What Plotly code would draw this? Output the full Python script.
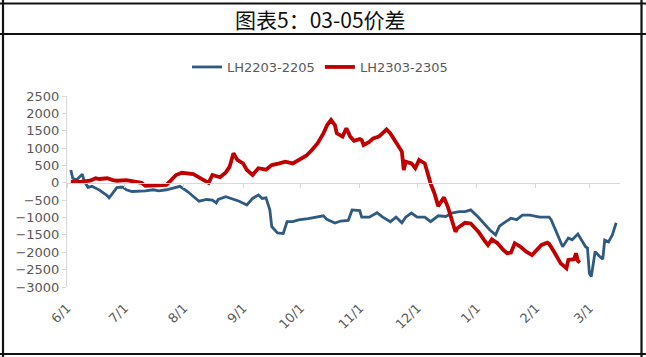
import plotly.graph_objects as go

# ---------------- data ----------------
blue_name = "LH2203-2205"
blue_dates = [
    "2021-06-03", "2021-06-04", "2021-06-06", "2021-06-09", "2021-06-10", "2021-06-12", "2021-06-14",
    "2021-06-18", "2021-06-22", "2021-06-23", "2021-06-25", "2021-06-27", "2021-06-30", "2021-07-02",
    "2021-07-05", "2021-07-09", "2021-07-12", "2021-07-16", "2021-07-19", "2021-07-23", "2021-07-26",
    "2021-07-30", "2021-08-03", "2021-08-06", "2021-08-09", "2021-08-13", "2021-08-16", "2021-08-18",
    "2021-08-19", "2021-08-23", "2021-08-26", "2021-08-30", "2021-09-03", "2021-09-06", "2021-09-09",
    "2021-09-11", "2021-09-13", "2021-09-15", "2021-09-16", "2021-09-19", "2021-09-22", "2021-09-24",
    "2021-09-27", "2021-09-30", "2021-10-05", "2021-10-10", "2021-10-13", "2021-10-15", "2021-10-19",
    "2021-10-22", "2021-10-26", "2021-10-28", "2021-11-01", "2021-11-02", "2021-11-06", "2021-11-10",
    "2021-11-13", "2021-11-17", "2021-11-20", "2021-11-23", "2021-11-25", "2021-11-28", "2021-12-01",
    "2021-12-05", "2021-12-08", "2021-12-12", "2021-12-16", "2021-12-19", "2021-12-23", "2021-12-26",
    "2021-12-29", "2022-01-02", "2022-01-05", "2022-01-08", "2022-01-11", "2022-01-13", "2022-01-15",
    "2022-01-19", "2022-01-22", "2022-01-25", "2022-01-29", "2022-02-03", "2022-02-08", "2022-02-09",
    "2022-02-12", "2022-02-15", "2022-02-18", "2022-02-20", "2022-02-23", "2022-02-25", "2022-02-27",
    "2022-02-28", "2022-03-01", "2022-03-02", "2022-03-04", "2022-03-06", "2022-03-08", "2022-03-09",
    "2022-03-11", "2022-03-13", "2022-03-15",
]
blue_values = [
    370, 130, 80, 250, 50, -130, -100,
    -210, -370, -430, -290, -140, -120, -200,
    -250, -250, -230, -200, -230, -200, -150,
    -100, -250, -400, -530, -480, -500, -580,
    -480, -400, -450, -530, -640, -450, -350,
    -450, -430, -780, -1260, -1440, -1460, -1120,
    -1120, -1070, -1030, -980, -950, -1060, -1160,
    -1100, -1080, -780, -800, -990, -990, -860,
    -990, -1120, -990, -1150, -990, -870, -990,
    -990, -1120, -950, -970, -870, -830, -830,
    -780, -990, -1170, -1360, -1500, -1250, -1170,
    -1020, -1060, -930, -930, -990, -990, -1060,
    -1450, -1840, -1590, -1640, -1475, -1640, -1840,
    -1880, -2610, -2700, -1980, -2100, -2200, -1650,
    -1700, -1500, -1150,
]

red_name = "LH2303-2305"
red_dates = [
    "2021-06-03", "2021-06-08", "2021-06-13", "2021-06-16", "2021-06-18", "2021-06-22", "2021-06-25",
    "2021-06-27", "2021-07-02", "2021-07-07", "2021-07-10", "2021-07-12", "2021-07-17", "2021-07-23",
    "2021-07-28", "2021-07-31", "2021-08-06", "2021-08-11", "2021-08-14", "2021-08-16", "2021-08-20",
    "2021-08-23", "2021-08-25", "2021-08-27", "2021-08-29", "2021-09-01", "2021-09-03", "2021-09-06",
    "2021-09-09", "2021-09-13", "2021-09-16", "2021-09-20", "2021-09-23", "2021-09-27", "2021-09-30",
    "2021-10-04", "2021-10-07", "2021-10-10", "2021-10-13", "2021-10-15", "2021-10-17", "2021-10-19",
    "2021-10-20", "2021-10-23", "2021-10-25", "2021-10-27", "2021-10-29", "2021-11-01", "2021-11-02",
    "2021-11-03", "2021-11-06", "2021-11-08", "2021-11-11", "2021-11-15", "2021-11-17", "2021-11-20",
    "2021-11-23", "2021-11-24", "2021-11-25", "2021-11-28", "2021-11-30", "2021-12-02", "2021-12-05",
    "2021-12-06", "2021-12-08", "2021-12-10", "2021-12-12", "2021-12-13", "2021-12-15", "2021-12-17",
    "2021-12-19", "2021-12-21", "2021-12-22", "2021-12-24", "2021-12-26", "2021-12-29", "2022-01-02",
    "2022-01-05", "2022-01-07", "2022-01-09", "2022-01-12", "2022-01-15", "2022-01-17", "2022-01-19",
    "2022-01-21", "2022-01-24", "2022-01-27", "2022-01-30", "2022-02-03", "2022-02-04", "2022-02-07",
    "2022-02-08", "2022-02-11", "2022-02-14", "2022-02-17", "2022-02-18", "2022-02-21", "2022-02-22",
    "2022-02-23", "2022-02-24",
]
red_values = [
    30, 30, 60, 130, 110, 130, 80,
    60, 80, 30, 0, -90, -70, -60,
    225, 290, 250, 100, 0, 225, 160,
    300, 465, 850, 660, 560, 370, 225,
    420, 380, 510, 560, 610, 560, 660,
    780, 945, 1140, 1425, 1665, 1810, 1665,
    1425, 1330, 1570, 1330, 1210, 1260, 1230,
    1090, 1180, 1280, 1330, 1540, 1420, 1180,
    900, 370, 610, 560, 420, 660, 560,
    370, -15, -300, -670, -590, -420, -690,
    -1070, -1410, -1310, -1215, -1150, -1170, -1410,
    -1650, -1790, -1630, -1740, -1935, -2030, -2010,
    -1740, -1840, -1980, -2080, -1840, -1790, -1725,
    -1760, -2030, -2320, -2460, -2220, -2200, -2030,
    -2250, -2300,
]

tick_dates = ["2021-06-01", "2021-07-01", "2021-08-01", "2021-09-01", "2021-10-01",
              "2021-11-01", "2021-12-01", "2022-01-01", "2022-02-01", "2022-03-01"]
tick_labels = ["6/1", "7/1", "8/1", "9/1", "10/1", "11/1", "12/1", "1/1", "2/1", "3/1"]
y_ticks = [2500, 2000, 1500, 1000, 500, 0, -500, -1000, -1500, -2000, -2500, -3000]
title_text = "图表5：03-05价差"

# ---------------- figure ----------------
W, H = 646, 357
ML, MR, MT, MB = 67, 26, 96, 70
PW, PH = W - ML - MR, H - MT - MB


def px_x(p):
    return (p - ML) / PW


def px_y(q):
    return (H - MB - q) / PH


y_min, y_max = -3000, 2500
x_range = ["2021-06-01", "2022-03-17"]
tick_font = dict(family="DejaVu Sans", size=13, color="#595959")

fig = go.Figure()
fig.add_trace(go.Scatter(x=blue_dates, y=blue_values, mode="lines", name=blue_name,
                         line=dict(color="#2F5A82", width=2.8)))
fig.add_trace(go.Scatter(x=red_dates, y=red_values, mode="lines", name=red_name,
                         line=dict(color="#C00000", width=3.8), xaxis="x2"))

frame = dict(color="#111111", width=2.2)
shapes = [
    dict(type="line", xref="paper", yref="paper", x0=px_x(0), x1=px_x(W), y0=px_y(3.5), y1=px_y(3.5), line=frame),
    dict(type="line", xref="paper", yref="paper", x0=px_x(0), x1=px_x(W), y0=px_y(34), y1=px_y(34), line=frame),
    dict(type="line", xref="paper", yref="paper", x0=px_x(0), x1=px_x(W), y0=px_y(354), y1=px_y(354), line=frame),
    dict(type="line", xref="paper", yref="paper", x0=px_x(3), x1=px_x(3), y0=px_y(0), y1=px_y(H), line=frame),
    dict(type="line", xref="paper", yref="paper", x0=px_x(641.5), x1=px_x(641.5), y0=px_y(0), y1=px_y(H), line=frame),
]

fig.update_layout(
    width=W, height=H,
    margin=dict(l=ML, r=MR, t=MT, b=MB, pad=0),
    paper_bgcolor="white", plot_bgcolor="white",
    font=dict(family="DejaVu Sans", size=13, color="#595959"),
    xaxis=dict(type="date", range=x_range, tickvals=tick_dates, ticktext=tick_labels,
               tickangle=-45, showgrid=False, zeroline=False, showline=False, ticks="",
               ticklabelstandoff=10, tickfont=tick_font, fixedrange=True),
    xaxis2=dict(type="date", range=x_range, overlaying="x", anchor="free",
                position=(0 - y_min) / (y_max - y_min), tickvals=tick_dates,
                showticklabels=False, ticks="outside", ticklen=4, tickcolor="#D9D9D9",
                showline=True, linecolor="#D9D9D9", linewidth=1, showgrid=False, zeroline=False),
    yaxis=dict(range=[y_min, y_max], tickvals=y_ticks, showgrid=False, zeroline=False,
               showline=True, linecolor="#D9D9D9", linewidth=1, ticks="outside", ticklen=4,
               tickcolor="#D9D9D9", tickfont=tick_font),
    legend=dict(orientation="h", x=px_x(320), xanchor="center", y=px_y(67), yanchor="middle",
                font=dict(family="DejaVu Sans", size=13, color="#595959"),
                bgcolor="rgba(0,0,0,0)", itemwidth=30, tracegroupgap=0),
    showlegend=True,
    shapes=shapes,
    annotations=[dict(text=title_text, xref="paper", yref="paper", x=px_x(320), y=px_y(19.5),
                      xanchor="center", yanchor="middle", showarrow=False,
                      font=dict(family="Noto Sans CJK SC", size=21, color="#111111"))],
)

fig.write_html("out.html", config={"displayModeBar": False},
               post_script="document.body.style.margin='0';document.body.style.padding='0';")
